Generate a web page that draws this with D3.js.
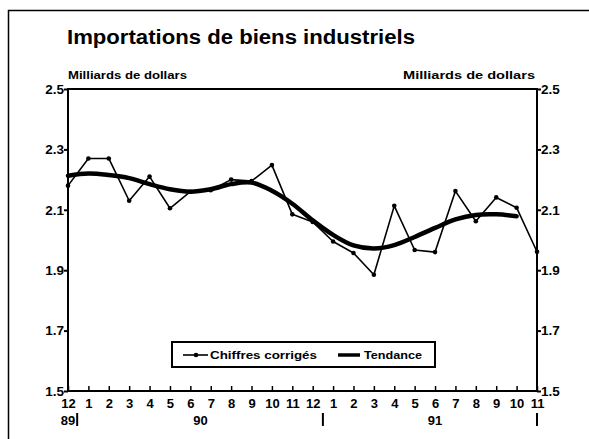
<!DOCTYPE html>
<html><head><meta charset="utf-8">
<script src="https://cdn.jsdelivr.net/npm/d3@7"></script>
<style>
html,body{margin:0;padding:0;background:#fff;}
text{font-family:"Liberation Sans",Arial,sans-serif;font-weight:bold;fill:#000;}
</style></head>
<body><svg id="c" width="589" height="439"></svg>
<script>
const months = ["12","1","2","3","4","5","6","7","8","9","10","11","12","1","2","3","4","5","6","7","8","9","10","11"];
const chiffres = [2.18,2.27,2.27,2.13,2.21,2.105,2.16,2.165,2.20,2.195,2.248,2.085,2.06,1.995,1.957,1.885,2.113,1.967,1.96,2.162,2.062,2.141,2.107,1.961];
const tendance = [2.213,2.22,2.215,2.205,2.185,2.168,2.16,2.168,2.185,2.19,2.163,2.12,2.065,2.017,1.982,1.972,1.983,2.01,2.04,2.068,2.083,2.085,2.079];
const yTicks = [1.5,1.7,1.9,2.1,2.3,2.5];
const years = [{label:"89", i:0},{label:"90", i:6.5},{label:"91", i:18}];
const dividers = [0.45,12.5,23];

const svg = d3.select("#c");
const L=68, R=537, T=89, B=391;
const x = d3.scaleLinear().domain([0, months.length-1]).range([L,R]);
const y = d3.scaleLinear().domain([1.5,2.5]).range([B,T]);

// outer frame
svg.append("path").attr("d","M8.5,439 V10.5 H589").attr("fill","none").attr("stroke","#000").attr("stroke-width",1.5);

svg.append("text").attr("x",67).attr("y",44).attr("font-size",20).attr("textLength",348).attr("lengthAdjust","spacingAndGlyphs").text("Importations de biens industriels");
svg.append("text").attr("x",68).attr("y",79).attr("font-size",11).attr("textLength",119).attr("lengthAdjust","spacingAndGlyphs").text("Milliards de dollars");
svg.append("text").attr("x",403).attr("y",79).attr("font-size",11).attr("textLength",132).attr("lengthAdjust","spacingAndGlyphs").text("Milliards de dollars");

// axes
const left = d3.axisLeft(y).tickValues(yTicks).tickSize(4).tickFormat(d3.format(".1f"));
const right = d3.axisRight(y).tickValues(yTicks).tickSize(4).tickFormat(d3.format(".1f"));
const gl = svg.append("g").attr("transform",`translate(${L},0)`).call(left);
const gr = svg.append("g").attr("transform",`translate(${R},0)`).call(right);
[gl,gr].forEach(g=>{
  g.select(".domain").remove();
  g.selectAll("line").attr("stroke","#000").attr("stroke-width",2);
  g.selectAll("text").attr("font-size",13.5).attr("font-family","Liberation Sans, Arial, sans-serif").attr("font-weight","bold");
});
gl.selectAll("text").attr("x",-4);
gr.selectAll("text").attr("x",4);

const bottom = d3.axisBottom(x).tickValues(d3.range(months.length)).tickSize(-5).tickFormat(i=>months[i]);
const gb = svg.append("g").attr("transform",`translate(0,${B})`).call(bottom);
gb.select(".domain").remove();
gb.selectAll("line").attr("stroke","#000").attr("stroke-width",1.5);
gb.selectAll("text").attr("y",8).attr("font-size",13).attr("font-family","Liberation Sans, Arial, sans-serif").attr("font-weight","bold");

// plot frame
svg.append("rect").attr("x",L).attr("y",T).attr("width",R-L).attr("height",B-T)
  .attr("fill","none").attr("stroke","#000").attr("stroke-width",2);

// year labels and dividers
svg.selectAll(".yr").data(years).join("text").attr("class","yr")
  .attr("x",d=>x(d.i)).attr("y",425).attr("font-size",13).attr("text-anchor","middle").text(d=>d.label);
svg.selectAll(".dv").data(dividers).join("line").attr("class","dv")
  .attr("x1",d=>x(d)).attr("x2",d=>x(d)).attr("y1",413).attr("y2",426)
  .attr("stroke","#000").attr("stroke-width",2);

// lines
const lineRaw = d3.line().x((d,i)=>x(i)).y(d=>y(d));
svg.append("path").datum(chiffres).attr("d",lineRaw).attr("fill","none").attr("stroke","#000").attr("stroke-width",1.6).attr("stroke-linejoin","round");
svg.selectAll(".pt").data(chiffres).join("circle").attr("class","pt")
  .attr("cx",(d,i)=>x(i)).attr("cy",d=>y(d)).attr("r",2.3).attr("fill","#000");
const lineTr = d3.line().x((d,i)=>x(i)).y(d=>y(d)).curve(d3.curveCatmullRom);
svg.append("path").datum(tendance).attr("d",lineTr).attr("fill","none").attr("stroke","#000").attr("stroke-width",4.5).attr("stroke-linecap","round");

// legend
const lg = svg.append("g");
lg.append("rect").attr("x",172).attr("y",342).attr("width",263).attr("height",25).attr("fill","#fff").attr("stroke","#000").attr("stroke-width",2);
lg.append("line").attr("x1",183).attr("x2",208).attr("y1",355).attr("y2",355).attr("stroke","#000").attr("stroke-width",1.6);
lg.append("circle").attr("cx",196).attr("cy",355).attr("r",2.3).attr("fill","#000");
lg.append("text").attr("x",210).attr("y",359).attr("font-size",11).attr("textLength",107).attr("lengthAdjust","spacingAndGlyphs").text("Chiffres corrigés");
lg.append("line").attr("x1",338).attr("x2",360).attr("y1",355).attr("y2",355).attr("stroke","#000").attr("stroke-width",3.5);
lg.append("text").attr("x",364).attr("y",359).attr("font-size",11).attr("textLength",58).attr("lengthAdjust","spacingAndGlyphs").text("Tendance");
</script></body></html>
